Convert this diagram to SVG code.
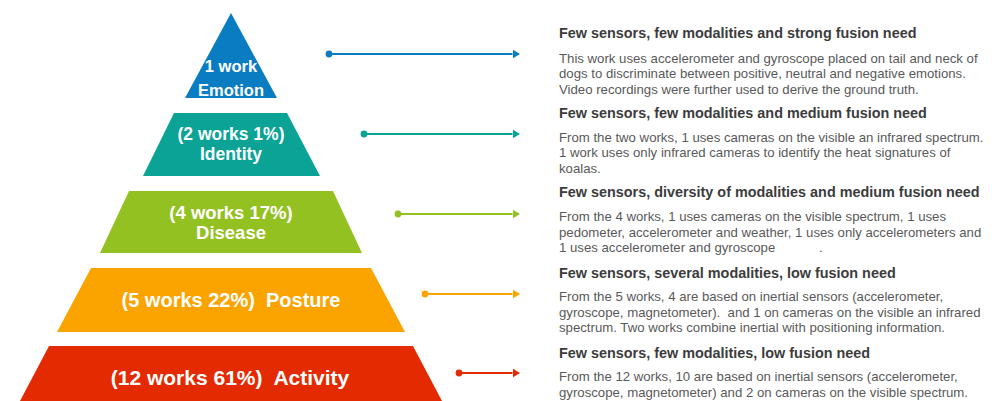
<svg xmlns="http://www.w3.org/2000/svg" width="992" height="401" viewBox="0 0 992 401">
  <style>
    .tier text { font-family: "Liberation Sans", Arial, sans-serif; font-weight: bold; fill: #ffffff; text-anchor: middle; }
    .head { font-family: "Liberation Sans", Arial, sans-serif; font-weight: bold; font-size: 14.4px; fill: #3c3c3c; }
    .body { font-family: "Liberation Sans", Arial, sans-serif; font-size: 13.2px; fill: #595959; }
    .conn line { stroke-width: 2.2; }
  </style>
  <defs>
    <marker id="ah-blue" markerUnits="userSpaceOnUse" markerWidth="8" markerHeight="10" refX="0" refY="4.65" orient="auto"><path d="M0,0 L7.5,4.65 L0,9.3 z" fill="#0a7dc2"/></marker>
    <marker id="ah-teal" markerUnits="userSpaceOnUse" markerWidth="8" markerHeight="10" refX="0" refY="4.65" orient="auto"><path d="M0,0 L7.5,4.65 L0,9.3 z" fill="#0aa396"/></marker>
    <marker id="ah-green" markerUnits="userSpaceOnUse" markerWidth="8" markerHeight="10" refX="0" refY="4.65" orient="auto"><path d="M0,0 L7.5,4.65 L0,9.3 z" fill="#93c121"/></marker>
    <marker id="ah-orange" markerUnits="userSpaceOnUse" markerWidth="8" markerHeight="10" refX="0" refY="4.65" orient="auto"><path d="M0,0 L7.5,4.65 L0,9.3 z" fill="#fba400"/></marker>
    <marker id="ah-red" markerUnits="userSpaceOnUse" markerWidth="8" markerHeight="10" refX="0" refY="4.65" orient="auto"><path d="M0,0 L7.5,4.65 L0,9.3 z" fill="#e42a00"/></marker>
  </defs>
  <rect width="992" height="401" fill="#ffffff"/>

  <!-- pyramid tiers -->
  <g id="tier-emotion" class="tier">
    <polygon points="231,13 185,98 277,98" fill="#0a7dc2"/>
    <text x="231" y="71.5" font-size="16.5">1 work</text>
    <text x="231" y="96" font-size="16.5">Emotion</text>
  </g>
  <g id="tier-identity" class="tier">
    <polygon points="174,113 287,113 320,176 143,176" fill="#0aa396"/>
    <text x="231" y="140" font-size="17.5">(2 works 1%)</text>
    <text x="231" y="159.5" font-size="17.5">Identity</text>
  </g>
  <g id="tier-disease" class="tier">
    <polygon points="129,191 333,191 362,253 100,253" fill="#93c121"/>
    <text x="231" y="219" font-size="18.5">(4 works 17%)</text>
    <text x="231" y="238.5" font-size="18.5">Disease</text>
  </g>
  <g id="tier-posture" class="tier">
    <polygon points="91,268 371,268 405,332 57,332" fill="#fba400"/>
    <text x="231" y="306.5" font-size="20">(5 works 22%)&#160; Posture</text>
  </g>
  <g id="tier-activity" class="tier">
    <polygon points="49,346 413,346 442,401 20,401" fill="#e42a00"/>
    <text x="230" y="384.5" font-size="21">(12 works 61%)&#160; Activity</text>
  </g>

  <!-- connectors -->
  <g id="connectors" class="conn">
    <line x1="329" y1="54" x2="512.5" y2="54" stroke="#0a7dc2" marker-end="url(#ah-blue)"/>
    <circle cx="329" cy="54" r="3.4" fill="#0a7dc2"/>
    <line x1="364" y1="134" x2="512.5" y2="134" stroke="#0aa396" marker-end="url(#ah-teal)"/>
    <circle cx="364" cy="134" r="3.4" fill="#0aa396"/>
    <line x1="398" y1="214" x2="512.5" y2="214" stroke="#93c121" marker-end="url(#ah-green)"/>
    <circle cx="398" cy="214" r="3.4" fill="#93c121"/>
    <line x1="425" y1="294" x2="512.5" y2="294" stroke="#fba400" marker-end="url(#ah-orange)"/>
    <circle cx="425" cy="294" r="3.4" fill="#fba400"/>
    <line x1="459" y1="373" x2="512.5" y2="373" stroke="#e42a00" marker-end="url(#ah-red)"/>
    <circle cx="459" cy="373" r="3.4" fill="#e42a00"/>
  </g>

  <!-- descriptions -->
  <g id="desc-emotion">
    <text class="head" x="559" y="38">Few sensors, few modalities and strong fusion need</text>
    <text class="body" x="559" y="62.5">This work uses accelerometer and gyroscope placed on tail and neck of</text>
    <text class="body" x="559" y="78">dogs to discriminate between positive, neutral and negative emotions.</text>
    <text class="body" x="559" y="93.5">Video recordings were further used to derive the ground truth.</text>
  </g>
  <g id="desc-identity">
    <text class="head" x="559" y="118">Few sensors, few modalities and medium fusion need</text>
    <text class="body" x="559" y="141.5">From the two works, 1 uses cameras on the visible an infrared spectrum.</text>
    <text class="body" x="559" y="157">1 work uses only infrared cameras to identify the heat signatures of</text>
    <text class="body" x="559" y="172.5">koalas.</text>
  </g>
  <g id="desc-disease">
    <text class="head" x="559" y="197">Few sensors, diversity of modalities and medium fusion need</text>
    <text class="body" x="559" y="221">From the 4 works, 1 uses cameras on the visible spectrum, 1 uses</text>
    <text class="body" x="559" y="236.5">pedometer, accelerometer and weather, 1 uses only accelerometers and</text>
    <text class="body" x="559" y="252">1 uses accelerometer and gyroscope<tspan x="819">.</tspan></text>
  </g>
  <g id="desc-posture">
    <text class="head" x="559" y="277.5">Few sensors, several modalities, low fusion need</text>
    <text class="body" x="559" y="301">From the 5 works, 4 are based on inertial sensors (accelerometer,</text>
    <text class="body" x="559" y="316.5">gyroscope, magnetometer).&#160; and 1 on cameras on the visible an infrared</text>
    <text class="body" x="559" y="332">spectrum. Two works combine inertial with positioning information.</text>
  </g>
  <g id="desc-activity">
    <text class="head" x="559" y="357.5">Few sensors, few modalities, low fusion need</text>
    <text class="body" x="559" y="381">From the 12 works, 10 are based on inertial sensors (accelerometer,</text>
    <text class="body" x="559" y="396.5">gyroscope, magnetometer) and 2 on cameras on the visible spectrum.</text>
  </g>
</svg>
